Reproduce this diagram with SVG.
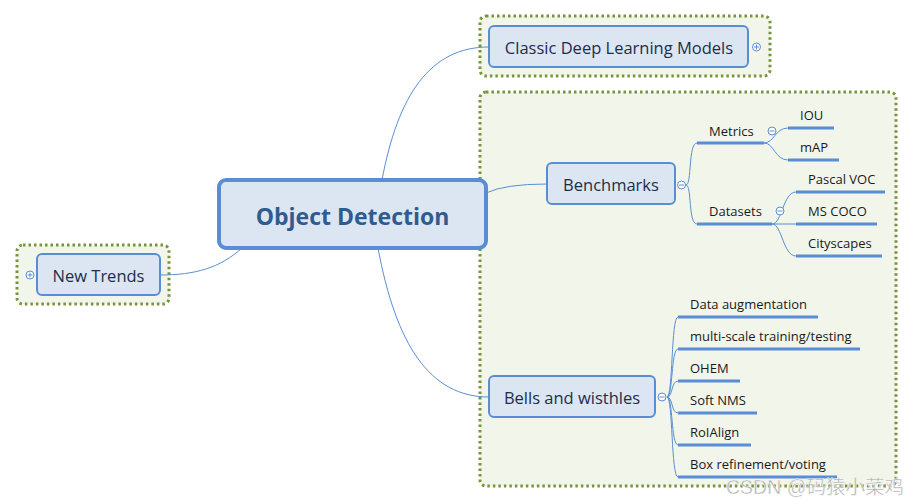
<svg xmlns="http://www.w3.org/2000/svg" width="913" height="504" viewBox="0 0 913 504">
<style>
.frame{fill:#f2f5ea;stroke:#77933c;stroke-width:3;stroke-dasharray:2.5,3}
.node{fill:#dce6f2;stroke:#5a8ed4;stroke-width:2}
.conn{fill:none;stroke:#5a8ed4;stroke-width:1}
.ul{stroke:#5a8ed4;stroke-width:3}
.t{font-family:"Open Sans","Noto Sans","DejaVu Sans",sans-serif;fill:#1c2d4a}
.leaf{font-family:"Open Sans","Noto Sans","DejaVu Sans",sans-serif;font-size:13px;fill:#1a1a1a}
.ic{fill:#ffffff;stroke:#5a8ed4;stroke-width:1}
.icl{stroke:#5a8ed4;stroke-width:1}
</style>
<rect width="913" height="504" fill="#ffffff"/>
<rect class="frame" x="480" y="16" width="290" height="60" rx="6"/>
<rect class="frame" x="480" y="92" width="416" height="394" rx="6"/>
<rect class="frame" x="17" y="245" width="152" height="59" rx="6"/>
<g id="connectors">
<path class="conn" d="M382,180 C398,95 430,47 489,47"/>
<path class="conn" d="M486,193 Q505,184 547,184"/>
<path class="conn" d="M378,248 C396,345 430,397 489,397"/>
<path class="conn" d="M242,248 C220,268 195,275 160,275"/>
<path class="conn" d="M686,185 C692,185 688,143 697,143 M686,185 C692,185 688,224 697,224"/>
<path class="conn" d="M764,143 C774,143 775,128 788,128 M764,143 C774,143 775,160 788,160"/>
<path class="conn" d="M772,224 C782,224 783,192 796,192 M772,224 L796,224 M772,224 C782,224 783,256 796,256"/>
<path class="conn" d="M667,397 C673,397 671,317 678,317 M667,397 C673,397 671,349 678,349 M667,397 C673,397 671,381 678,381 M667,397 C673,397 671,413 678,413 M667,397 C673,397 671,445 678,445 M667,397 C673,397 671,477 678,477"/>
</g>
<g id="n-classic">
<rect class="node" x="489" y="26" width="259" height="41" rx="5"/>
<text class="t" x="619" y="53.5" font-size="16.5" text-anchor="middle">Classic Deep Learning Models</text>
<circle class="ic" cx="756.5" cy="47" r="4"/><path class="icl" d="M754,47h5M756.5,44.5v5"/>
</g>
<g id="n-central">
<rect x="219" y="180" width="267" height="68" rx="7" fill="#dce6f2" stroke="#5a8ed4" stroke-width="4"/>
<text x="352.5" y="225" font-family="Open Sans,Noto Sans,DejaVu Sans,sans-serif" font-size="23" font-weight="bold" fill="#2f5b8f" text-anchor="middle">Object Detection</text>
</g>
<g id="n-newtrends">
<rect class="node" x="37" y="254" width="123" height="41" rx="5"/>
<text class="t" x="98.5" y="282" font-size="16.5" text-anchor="middle">New Trends</text>
<circle class="ic" cx="30" cy="275" r="4"/><path class="icl" d="M27.5,275h5M30,272.5v5"/>
</g>
<g id="n-benchmarks">
<rect class="node" x="547" y="163" width="128" height="41" rx="5"/>
<text class="t" x="611" y="191" font-size="16.5" text-anchor="middle">Benchmarks</text>
<circle class="ic" cx="681.5" cy="185" r="4"/><path class="icl" d="M679,185h5"/>
</g>
<g id="n-metrics">
<line class="ul" x1="697" y1="143" x2="764" y2="143"/>
<text class="leaf" x="709" y="136">Metrics</text>
<circle class="ic" cx="772" cy="131" r="4"/><path class="icl" d="M769.5,131h5"/>
</g>
<g id="n-iou"><line class="ul" x1="788" y1="128" x2="834" y2="128"/><text class="leaf" x="800" y="120">IOU</text></g>
<g id="n-map"><line class="ul" x1="788" y1="160" x2="839" y2="160"/><text class="leaf" x="800" y="152">mAP</text></g>
<g id="n-datasets">
<line class="ul" x1="697" y1="224" x2="772" y2="224"/>
<text class="leaf" x="709" y="216">Datasets</text>
<circle class="ic" cx="780" cy="211" r="4"/><path class="icl" d="M777.5,211h5"/>
</g>
<g id="n-voc"><line class="ul" x1="796" y1="192" x2="885" y2="192"/><text class="leaf" x="808" y="184">Pascal VOC</text></g>
<g id="n-coco"><line class="ul" x1="796" y1="224" x2="877" y2="224"/><text class="leaf" x="808" y="216">MS COCO</text></g>
<g id="n-city"><line class="ul" x1="796" y1="256" x2="882" y2="256"/><text class="leaf" x="808" y="248">Cityscapes</text></g>
<g id="n-bells">
<rect class="node" x="489" y="376" width="166" height="41" rx="5"/>
<text class="t" x="572" y="404" font-size="16.5" text-anchor="middle">Bells and wisthles</text>
<circle class="ic" cx="662" cy="397" r="4"/><path class="icl" d="M659.5,397h5"/>
</g>
<g id="n-aug"><line class="ul" x1="678" y1="317" x2="818" y2="317"/><text class="leaf" x="690" y="309">Data augmentation</text></g>
<g id="n-multi"><line class="ul" x1="678" y1="349" x2="860" y2="349"/><text class="leaf" x="690" y="341">multi-scale training/testing</text></g>
<g id="n-ohem"><line class="ul" x1="678" y1="381" x2="740" y2="381"/><text class="leaf" x="690" y="373">OHEM</text></g>
<g id="n-softnms"><line class="ul" x1="678" y1="413" x2="757" y2="413"/><text class="leaf" x="690" y="405">Soft NMS</text></g>
<g id="n-roialign"><line class="ul" x1="678" y1="445" x2="751" y2="445"/><text class="leaf" x="690" y="437">RoIAlign</text></g>
<g id="n-box"><line class="ul" x1="678" y1="477" x2="837" y2="477"/><text class="leaf" x="690" y="469">Box refinement/voting</text></g>
<text x="726" y="494" font-family="Liberation Sans,Noto Sans CJK SC,sans-serif" font-size="19.5" fill="#b0b0b0" stroke="#ffffff" stroke-width="0.4">CSDN @码猿小菜鸡</text>
</svg>
